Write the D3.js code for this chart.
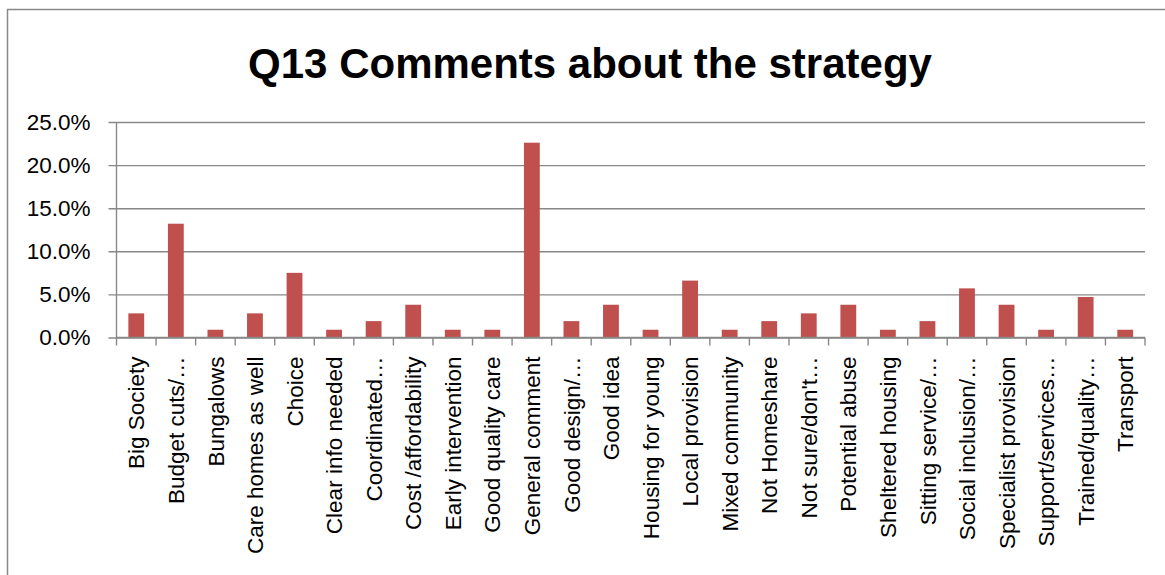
<!DOCTYPE html>
<html>
<head>
<meta charset="utf-8">
<script src="https://cdn.jsdelivr.net/npm/d3@7/dist/d3.min.js"></script>
<style>
  html, body { margin: 0; padding: 0; background: #fff; }
  svg { display: block; }
</style>
</head>
<body>
<svg id="chart" width="1165" height="575"></svg>
<script>
// Survey answers grouped by theme, share of all comments (%)
const categories = [
  "Big Society", "Budget cuts/…", "Bungalows", "Care homes as well", "Choice",
  "Clear info needed", "Coordinated…", "Cost /affordability", "Early intervention",
  "Good quality care", "General comment", "Good design/…", "Good idea",
  "Housing for young", "Local provision", "Mixed community", "Not Homeshare",
  "Not sure/don't…", "Potential abuse", "Sheltered housing", "Sitting service/…",
  "Social inclusion/…", "Specialist provision", "Support/services…",
  "Trained/quality…", "Transport"
];
const shares = [
  2.8, 13.2, 0.9, 2.8, 7.5,
  0.9, 1.9, 3.8, 0.9,
  0.9, 22.6, 1.9, 3.8,
  0.9, 6.6, 0.9, 1.9,
  2.8, 3.8, 0.9, 1.9,
  5.7, 3.8, 0.9,
  4.7, 0.9
];
const yTicks = [0, 5, 10, 15, 20, 25];
const chartTitle = "Q13 Comments about the strategy";

const svg = d3.select("#chart");
const font = "'Liberation Sans', Arial, sans-serif";
const gridColor = "#888888";
const barColor = "#c0504d";

const plot = { left: 116.5, right: 1145, top: 122, bottom: 337.5 };

// Outer chart frame
svg.append("rect")
  .attr("x", 7.5).attr("y", 9.5)
  .attr("width", 1200).attr("height", 600)
  .attr("fill", "none")
  .attr("stroke", gridColor)
  .attr("stroke-width", 1.5);

// Title
svg.append("text")
  .attr("x", 590).attr("y", 78)
  .attr("text-anchor", "middle")
  .attr("font-family", font)
  .attr("font-weight", "bold")
  .attr("font-size", 42)
  .attr("fill", "#000")
  .text(chartTitle);

const x = d3.scaleBand()
  .domain(categories)
  .range([plot.left, plot.right])
  .paddingInner(0.6)
  .paddingOuter(0.3);

const y = d3.scaleLinear()
  .domain([0, 25])
  .range([plot.bottom, plot.top]);

// Horizontal gridlines with short ticks left of the axis
const yAxis = d3.axisLeft(y)
  .tickValues(yTicks)
  .tickSize(-(plot.right - plot.left))
  .tickPadding(16)
  .tickFormat(d => d.toFixed(1) + "%");

const gy = svg.append("g")
  .attr("transform", `translate(${plot.left},0)`)
  .call(yAxis);
gy.select(".domain").remove();
gy.selectAll(".tick line")
  .attr("x1", -8)
  .attr("stroke", gridColor)
  .attr("stroke-width", 1.4);
gy.selectAll(".tick text")
  .attr("x", -26)
  .attr("font-family", font)
  .attr("font-size", 22.5)
  .attr("fill", "#000");

// Vertical axis line
svg.append("line")
  .attr("x1", plot.left).attr("x2", plot.left)
  .attr("y1", plot.top).attr("y2", plot.bottom)
  .attr("stroke", gridColor).attr("stroke-width", 1.4);

// Bars
svg.append("g").selectAll("rect")
  .data(categories.map((c, i) => ({ c, v: shares[i] })))
  .join("rect")
  .attr("x", d => x(d.c))
  .attr("y", d => y(d.v))
  .attr("width", x.bandwidth())
  .attr("height", d => y(0) - y(d.v))
  .attr("fill", barColor);

// Category axis: baseline plus boundary ticks between slots
const step = x.step();
const slotStart = plot.left;
const boundaries = d3.range(categories.length + 1).map(i => slotStart + i * step);

svg.append("line")
  .attr("x1", plot.left).attr("x2", plot.right)
  .attr("y1", plot.bottom).attr("y2", plot.bottom)
  .attr("stroke", gridColor).attr("stroke-width", 1.4);

svg.append("g").selectAll("line")
  .data(boundaries)
  .join("line")
  .attr("x1", d => d).attr("x2", d => d)
  .attr("y1", plot.bottom).attr("y2", plot.bottom + 8)
  .attr("stroke", gridColor).attr("stroke-width", 1.4);

// Rotated category labels
const xAxis = d3.axisBottom(x).tickSize(0).tickPadding(0);
const gx = svg.append("g")
  .attr("transform", `translate(0,${plot.bottom})`)
  .call(xAxis);
gx.select(".domain").remove();
gx.selectAll(".tick text")
  .attr("transform", "rotate(-90)")
  .attr("x", -19)
  .attr("y", 0)
  .attr("dy", "0.36em")
  .attr("text-anchor", "end")
  .attr("font-family", font)
  .attr("font-size", 22.5)
  .attr("fill", "#000");
</script>
</body>
</html>
